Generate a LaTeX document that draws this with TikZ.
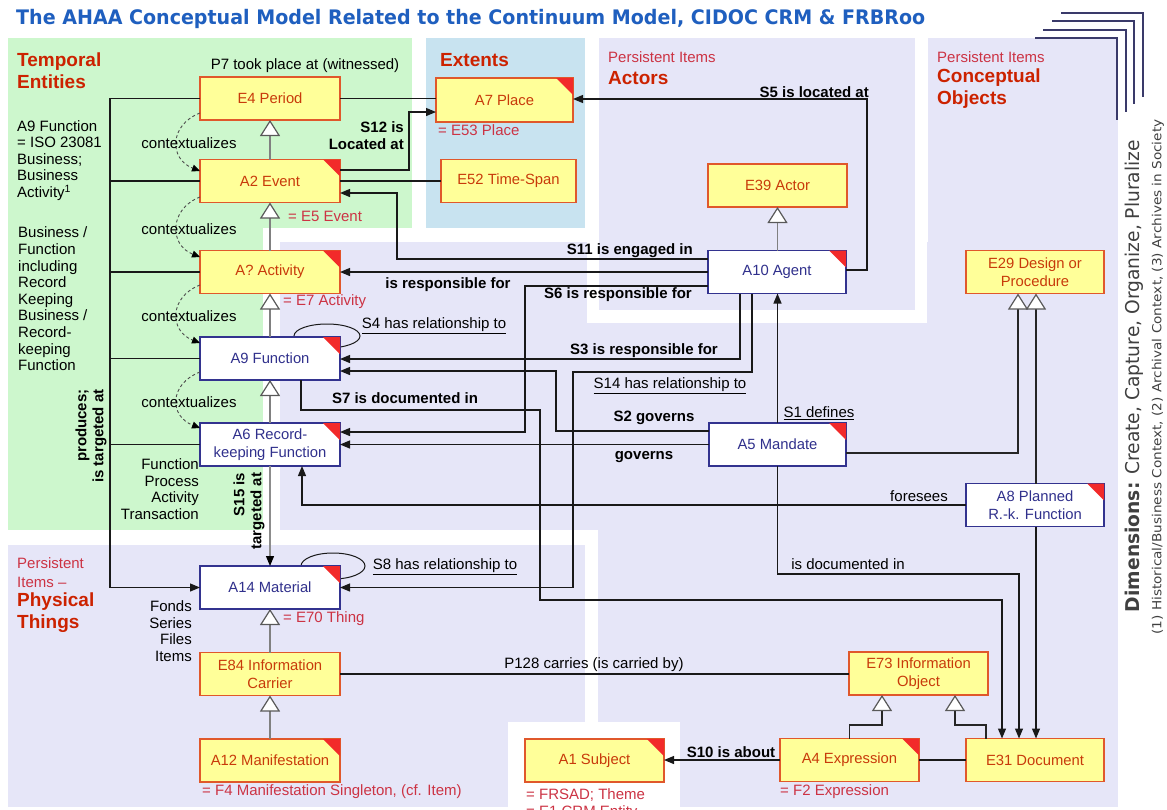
\documentclass[tikz,border=0pt]{standalone}
\usepackage{fontspec}
\setmainfont{Liberation Sans}
\newfontfamily\dvsans{DejaVu Sans}
\usepackage{graphicx}
\usetikzlibrary{arrows.meta,calc}

\definecolor{bggreen}{HTML}{CDF7CD}
\definecolor{bgblue}{HTML}{C8E3F0}
\definecolor{bglav}{HTML}{E6E6F8}
\definecolor{yfill}{HTML}{FFFF99}
\definecolor{yborder}{HTML}{E0582B}
\definecolor{ytext}{HTML}{C83A0A}
\definecolor{wborder}{HTML}{33338F}
\definecolor{wtext}{HTML}{30308C}
\definecolor{cornerred}{HTML}{F22A2A}
\definecolor{ttlred}{HTML}{CC2200}
\definecolor{annred}{HTML}{CC3344}
\definecolor{titleblue}{HTML}{1F5FBF}
\definecolor{navyline}{HTML}{3A3A6A}
\definecolor{dimgray}{HTML}{404040}

\pgfdeclarelayer{back}
\pgfsetlayers{back,main}

\tikzset{
  ybox/.style={draw=yborder, fill=yfill, text=ytext, line width=1.3pt,
    minimum width=140pt, minimum height=43pt, inner sep=0pt, outer sep=0pt,
    align=center, font=\fontsize{14.8}{17.5}\selectfont},
  wbox/.style={ybox, draw=wborder, fill=white, text=wtext},
  conn/.style={draw=black!90, line width=1.2pt},
  arr/.style={-{Triangle[length=10pt,width=8pt]}},
  inh/.style={draw=black!50, line width=1.2pt,
    -{Triangle[length=16pt,width=20pt,color=black!65,fill=white]}},
  inhdark/.style={inh, draw=black!85},
  ctx/.style={draw=black!70, line width=0.9pt, dash pattern=on 3pt off 2.5pt,
    -{Triangle[length=8pt,width=7pt,color=black]}},
  lbl/.style={inner sep=0pt, font=\fontsize{15}{17}\selectfont},
  blbl/.style={inner sep=0pt, font=\fontsize{15}{17}\selectfont\bfseries},
  ann/.style={lbl, text=annred, anchor=west},
  rgn/.style={inner sep=0pt, anchor=west, text=ttlred,
    font=\fontsize{19}{22}\selectfont\bfseries, align=left},
  rgnsub/.style={inner sep=0pt, anchor=west, text=annred,
    font=\fontsize{15}{17}\selectfont},
  sidetext/.style={inner sep=0pt, font=\fontsize{15}{16.6}\selectfont},
}

\begin{document}
\begin{tikzpicture}[x=1pt,y=-1pt]
\useasboundingbox (0,0) rectangle (1167,809);

% ---------- coloured areas ----------
\begin{pgfonlayer}{back}
  \fill[white] (0,0) rectangle (1167,809);
  \fill[bglav] (280,242) rectangle (1118,530);
  \fill[bglav] (598,242) rectangle (1118,807);
  \fill[bglav] (928,38) rectangle (1118,807);
  \fill[bglav] (8,545) rectangle (585,807);
  \fill[white] (587,38) rectangle (927,323);
  \fill[bglav] (599,38) rectangle (915,310);
  \fill[white] (508,722) rectangle (680,809);
  \fill[bggreen] (8,38) rectangle (412,228);
  \fill[bggreen] (8,228) rectangle (263,530);
  \fill[bgblue] (426,38) rectangle (585,228);
\end{pgfonlayer}

% ---------- title ----------
\node[inner sep=0pt, anchor=west, text=titleblue] (title) at (16,19)
  {\resizebox{909pt}{\height}{\dvsans\bfseries\fontsize{20}{24}\selectfont
   The AHAA Conceptual Model Related to the Continuum Model, CIDOC CRM \& FRBRoo}};

% ---------- frame lines top right ----------
\draw[navyline, line width=1.4pt] (1061,13) -| (1143,97);
\draw[navyline, line width=1.4pt] (1052,21) -| (1134,104);
\draw[navyline, line width=1.4pt] (1043,30) -| (1126,112);
\draw[navyline, line width=1.4pt] (1035,38) -| (1117,120);

% ---------- dimensions ----------
\node[rotate=90, inner sep=0pt, text=dimgray] (dim1) at (1134,376)
  {\resizebox{472pt}{\height}{\dvsans\fontsize{19}{21}\selectfont\textbf{Dimensions:} Create, Capture, Organize, Pluralize}};
\node[rotate=90, inner sep=0pt, text=dimgray] (dim2) at (1158,377)
  {\resizebox{515pt}{\height}{\dvsans\fontsize{12.5}{14}\selectfont (1) Historical/Business Context, (2) Archival Context, (3) Archives in Society}};

% ---------- region headings ----------
\node[rgn] (hTemp) at (17,71) {Temporal\\Entities};
\node[rgn] (hExt) at (440,60) {Extents};
\node[rgnsub] (hPA) at (608,57) {Persistent Items};
\node[rgn] (hAct) at (608,78) {Actors};
\node[rgnsub] (hPC) at (937,57) {Persistent Items};
\node[rgn] (hCon) at (937,88.5) {Conceptual\\Objects};
\node[rgnsub, align=left, font=\fontsize{15}{19}\selectfont] (hPP) at (17,572.5) {Persistent\\Items --};
\node[rgn] (hPhy) at (17,612.5) {Physical\\Things};

% ---------- side notes ----------
\node[sidetext, anchor=west, align=left] (note1) at (17,160.5)
  {A9 Function\\= ISO 23081\\Business;\\Business\\Activity\textsuperscript{1}};
\node[sidetext, anchor=west, align=left] (note2) at (18,299)
  {Business /\\Function\\including\\Record\\Keeping\\Business /\\Record-\\keeping\\Function};
\node[sidetext, anchor=east, align=right] (note3) at (199,489)
  {Function\\Process\\Activity\\Transaction};
\node[sidetext, anchor=east, align=right] (note4) at (192,631)
  {Fonds\\Series\\Files\\Items};

% ---------- classes ----------
\node[ybox] (E4) at (270,98.5) {E4 Period};
\node[ybox] (A2) at (270,181) {A2 Event};
\node[ybox] (Aact) at (270,272) {A? Activity};
\node[wbox] (A9) at (270,358.5) {A9 Function};
\node[wbox] (A6) at (270,444.5) {A6 Record-\\keeping Function};
\node[wbox] (A14) at (270,587.5) {A14 Material};
\node[ybox] (E84) at (270,674) {E84 Information\\Carrier};
\node[ybox] (A12) at (270,760.5) {A12 Manifestation};
\node[ybox, minimum width=137pt, minimum height=44pt] (A7) at (504.5,100) {A7 Place};
\node[ybox, minimum width=135pt] (E52) at (508.5,181) {E52 Time-Span};
\node[ybox, minimum width=139pt] (E39) at (777.5,185.5) {E39 Actor};
\node[wbox, minimum width=138pt] (A10) at (777,272) {A10 Agent};
\node[wbox, minimum width=137pt] (A5) at (777.5,444.5) {A5 Mandate};
\node[ybox, minimum width=138pt] (E29) at (1035,272) {E29 Design or\\Procedure};
\node[wbox, minimum width=138pt] (A8) at (1035,505) {A8 Planned\\R.-k. Function};
\node[ybox, minimum width=139pt] (E73) at (918.5,673.5) {E73 Information\\Object};
\node[ybox, minimum width=139pt] (A4) at (849.5,760) {A4 Expression};
\node[ybox, minimum width=138pt] (E31) at (1035,760) {E31 Document};
\node[ybox, minimum width=139pt] (A1) at (594.5,760.5) {A1 Subject};

% red corner marks
\foreach \n in {A2,Aact,A9,A6,A14,A12,A7,A10,A5,A8,A1,A4}
  \fill[cornerred] (\n.north east) -- ++(-17,0) -- ++(17,17) -- cycle;

% self loops (behind the boxes)
\begin{pgfonlayer}{back}
  \draw[conn, line width=1pt] ($(A9.north east)+(-13,-1)$) ellipse [x radius=33pt, y radius=12pt];
  \draw[conn, line width=1pt] ($(A14.north east)+(-7,0)$) ellipse [x radius=32pt, y radius=13pt];
\end{pgfonlayer}

% ---------- equivalences ----------
\node[ann] (eqE53) at (438,130) {= E53 Place};
\node[ann] (eqE5) at (288,216) {= E5 Event};
\node[ann] (eqE7) at (283,302) {= E7 Activity};
\node[ann] (eqE70) at (283,619) {= E70 Thing};
\node[ann] (eqF4) at (202,792) {= F4 Manifestation Singleton, (cf. Item)};
\node[ann] (eqFR) at (526,795) {= FRSAD; Theme};
\node[ann] (eqE1) at (526,813) {= E1 CRM Entity};
\node[ann] (eqF2) at (780,792) {= F2 Expression};

% ---------- generalisations ----------
\draw[inh] (A2.north) -- (E4.south);
\draw[inh] (Aact.north) -- (A2.south);
\draw[inh] (A9.north) -- (Aact.south);
\draw[inh] (A6.north) -- (A9.south);
\draw[inh] (E84.north) -- (A14.south);
\draw[inh] (A12.north) -- (E84.south);
\draw[inh] (A10.north -| E39.south) -- (E39.south);
\draw[inhdark] (A5.east |- 0,453) -| (E29.south -| 1018,0);
\draw[inhdark] (A8.north -| 1036,0) -- (E29.south -| 1036,0);
\draw[inhdark] (A4.north) |- (882,725) -- (E73.south -| 882,0);
\draw[inhdark] (E31.north -| 986,0) |- (955,725) -- (E73.south -| 955,0);

% ---------- contextualizes ----------
\draw[ctx] (E4.west |- 0,113) .. controls +(-31,12) and +(-31,-12) .. (A2.west |- 0,171);
\draw[ctx] (A2.west |- 0,197) .. controls +(-31,12) and +(-31,-12) .. (Aact.west |- 0,257);
\draw[ctx] (Aact.west |- 0,285) .. controls +(-31,12) and +(-31,-12) .. (A9.west |- 0,343);
\draw[ctx] (A9.west |- 0,372) .. controls +(-31,12) and +(-31,-12) .. (A6.west |- 0,428);
\foreach \y/\nm in {143/c1,229/c2,316/c3,402/c4}
  \node[lbl] (\nm) at (189,\y) {contextualizes};

% ---------- produces; is targeted at ----------
\coordinate (trunk) at (110,0);
\draw[conn,arr] (E4.west) -| (trunk |- A14.west) -- (A14.west);
\foreach \n in {A2,Aact,A9,A6}
  \draw[conn] (\n.west) -- (trunk |- \n.west);
\node[blbl, rotate=90, align=right] (lprod) at (91,436) {produces;\\is targeted at};

% ---------- properties ----------
\draw[conn] (E4.east) -- (A7.west |- E4.east);
\node[lbl] (lp7) at (305,66) {P7 took place at (witnessed)};

\draw[conn,arr] (A2.east |- 0,170) -| (409,112) -- (A7.west |- 0,112);
\node[blbl, align=right, anchor=east] (ls12) at (404,135.5) {S12 is\\Located at};

\draw[conn] (E52.west) -- (A2.east |- E52.west);

\draw[conn,arr] (A10.east |- 0,270) -| (867,99) -- (A7.east |- 0,99);
\node[blbl, anchor=east] (ls5) at (869,92) {S5 is located at};

\draw[conn,arr] (A10.west |- 0,259) -| (397,193) -- (A2.east |- 0,193);
\node[blbl, anchor=east] (ls11) at (693,251) {S11 is engaged in};

\draw[conn,arr] (A10.west) -- (Aact.east);
\node[blbl] (lresp) at (448,285) {is responsible for};

\draw[conn,arr] (A10.west |- 0,286) -| (525,432) -- (A6.east |- 0,432);
\node[blbl] (ls6) at (618,295) {S6 is responsible for};

\node[lbl] (ls4) at (434,326) {\underline{S4 has relationship to}};

\draw[conn,arr] (A10.south -| 740,0) |- (A9.east |- 0,359);
\node[blbl] (ls3) at (644,351) {S3 is responsible for};

\draw[conn,arr] (A10.south -| 752,0) |- (573,372) |- (A14.east);

\draw[conn,arr] (A5.west |- 0,431) -| (556,371) -- (A9.east |- 0,371);
\node[lbl] (ls14) at (670,386) {\underline{S14 has relationship to}};
\node[blbl] (ls2) at (654,418) {S2 governs};

\draw[conn,arr] (A5.west) -- (A6.east);
\node[blbl] (lgov) at (644,457) {governs};

\draw[conn,arr] (A9.south -| 301,0) |- (540,410) |- (1002,600) -- (E31.north -| 1002,0);
\node[blbl] (ls7) at (405,398) {S7 is documented in};

\draw[conn,arr] (A8.west) -| (A6.south -| 302,0);
\node[lbl] (lfor) at (919,496) {foresees};

\draw[conn,arr] (A5.north) -- (A10.south -| A5.north);
\node[lbl] (ls1) at (819,413) {\underline{S1 defines}};

\draw[conn,arr] (A5.south) |- (1019,574) -- (E31.north -| 1019,0);
\node[lbl] (ldoc) at (848,564) {is documented in};

\draw[conn,arr] (A8.south -| 1036,0) -- (E31.north -| 1036,0);

\draw[conn, draw=black!45, -{Triangle[length=10pt,width=8pt,color=black]}] (A6.south) -- (A14.north);
\node[blbl, rotate=90, align=right] (ls15) at (249,511) {S15 is\\targeted at};

\node[lbl] (ls8) at (445,567) {\underline{S8 has relationship to}};

\draw[conn] (E84.east) -- (E73.west |- E84.east);
\node[lbl] (lp128) at (594,665) {P128 carries (is carried by)};

\draw[conn,arr] (A4.west) -- (A1.east |- A4.west);
\node[blbl] (ls10) at (731,752) {S10 is about};

\draw[conn] (A4.east) -- (E31.west);

\end{tikzpicture}
\end{document}
